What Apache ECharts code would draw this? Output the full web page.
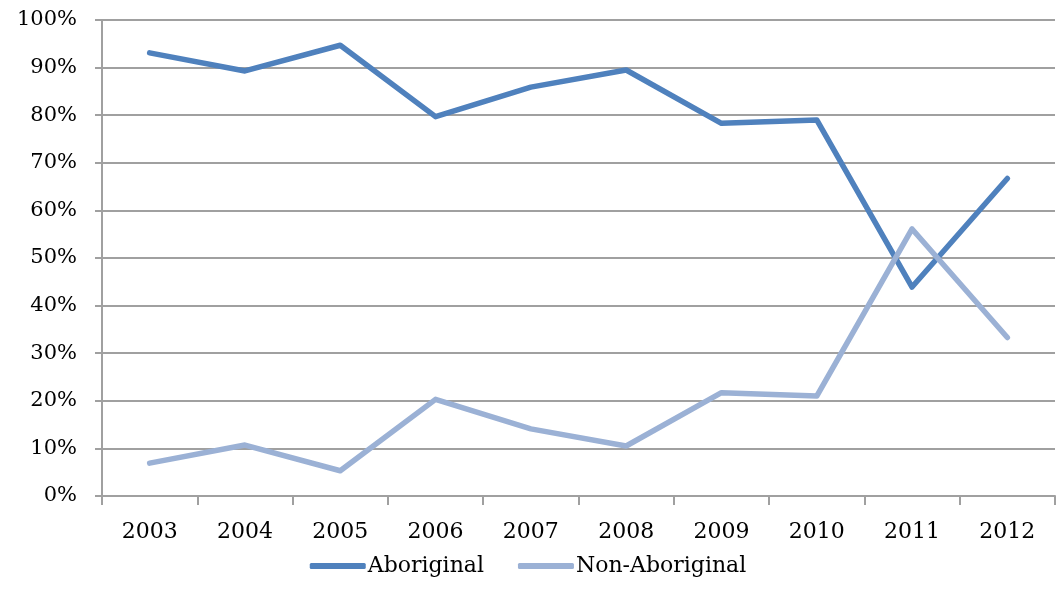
<!DOCTYPE html>
<html><head><meta charset="utf-8">
<script src="https://cdn.jsdelivr.net/npm/echarts@6/dist/echarts.min.js"></script>
<style>html,body{margin:0;padding:0;background:#fff}#c{width:1056px;height:608px}</style>
</head><body><div id="c"></div>
<script>
const years = ['2003','2004','2005','2006','2007','2008','2009','2010','2011','2012'];
const aboriginal = [93.1, 89.3, 94.7, 79.7, 85.9, 89.5, 78.3, 79.0, 43.9, 66.7];
const nonAboriginal = [6.9, 10.7, 5.3, 20.3, 14.1, 10.5, 21.7, 21.0, 56.1, 33.3];
const font = 'DejaVu Serif';
const chart = echarts.init(document.getElementById('c'), null, {renderer:'canvas'});
chart.setOption({
  animation: false,
  backgroundColor: '#fff',
  grid: {left: 102, right: 1, top: 20, bottom: 112, containLabel: false},
  legend: {
    bottom: 26, left: 'center', itemWidth: 56, itemHeight: 6, itemGap: 34,
    icon: 'roundRect',
    textStyle: {fontFamily: font, fontSize: 22, color: '#000', padding:[0,0,0,-3]},
    data: ['Aboriginal','Non-Aboriginal']
  },
  xAxis: {
    type: 'category', data: years, boundaryGap: true,
    axisLine: {lineStyle: {color: '#a0a0a0', width: 2}},
    axisTick: {show: true, length: 9, lineStyle: {color: '#a0a0a0', width: 2}},
    axisLabel: {fontFamily: font, fontSize: 22, color: '#000', margin: 25}
  },
  yAxis: {
    type: 'value', min: 0, max: 100, interval: 10,
    axisLine: {show: true, lineStyle: {color: '#a0a0a0', width: 2}},
    axisTick: {show: true, length: 7, lineStyle: {color: '#a0a0a0', width: 2}},
    splitLine: {lineStyle: {color: '#a0a0a0', width: 2}},
    axisLabel: {fontFamily: font, fontSize: 21, color: '#000', margin: 25, formatter: '{value}%'}
  },
  series: [
    {name: 'Aboriginal', type: 'line', data: aboriginal, symbol: 'none',
     lineStyle: {color: '#4f81bd', width: 5.5, cap: 'round', join: 'round'}, itemStyle: {color: '#4f81bd'}},
    {name: 'Non-Aboriginal', type: 'line', data: nonAboriginal, symbol: 'none',
     lineStyle: {color: '#9bb1d5', width: 5.5, cap: 'round', join: 'round'}, itemStyle: {color: '#9bb1d5'}}
  ]
});
</script></body></html>
